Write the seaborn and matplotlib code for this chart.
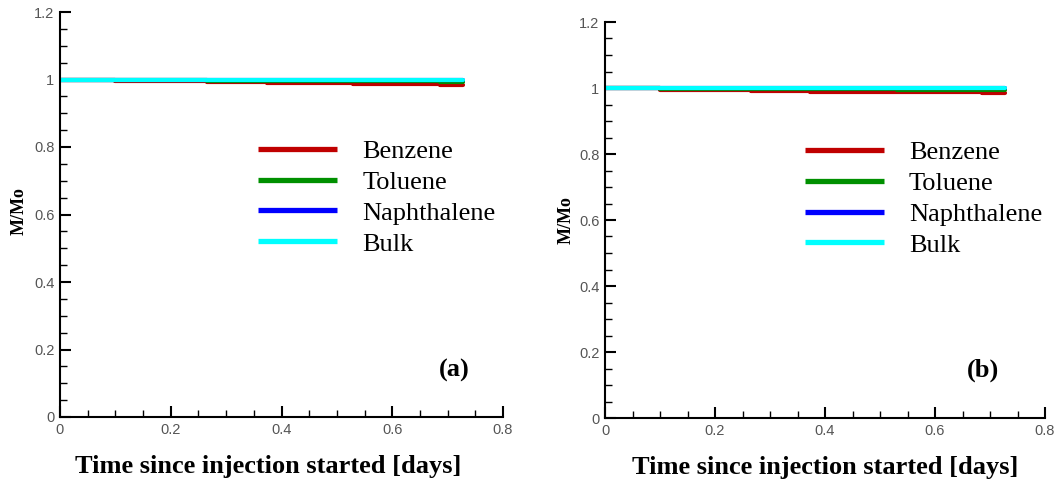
import numpy as np
import pandas as pd
import seaborn as sns
import matplotlib
matplotlib.use("Agg")
import matplotlib.pyplot as plt
from matplotlib.ticker import MultipleLocator

# ---- data ----
times = [0.0, 0.10, 0.265, 0.373, 0.53, 0.686, 0.728]
benzene = [1.000, 0.995, 0.992, 0.989, 0.987, 0.984, 0.984]
toluene = [1.000, 0.998, 0.997, 0.996, 0.995, 0.994, 0.994]
naphthalene = [1.000, 1.000, 1.000, 0.999, 0.999, 0.999, 0.999]
bulk = [1.000, 1.000, 1.000, 1.000, 1.000, 1.000, 1.000]

series_names = ["Benzene", "Toluene", "Naphthalene", "Bulk"]
series_colors = ["#c00000", "#009000", "#0000ff", "#00ffff"]
x_ticks = [0, 0.2, 0.4, 0.6, 0.8]
x_ticklabels = ["0", "0.2", "0.4", "0.6", "0.8"]
y_ticks = [0, 0.2, 0.4, 0.6, 0.8, 1.0, 1.2]
y_ticklabels = ["0", "0.2", "0.4", "0.6", "0.8", "1", "1.2"]
panel_labels = ["(a)", "(b)"]
xlabel = "Time since injection started [days]"
ylabel = "M/Mo"

frames = []
for name, vals in zip(series_names, [benzene, toluene, naphthalene, bulk]):
    frames.append(pd.DataFrame({"time": times, "M": vals, "species": name}))
df = pd.concat(frames, ignore_index=True)

sns.set_theme(style="ticks")
plt.rcParams["font.family"] = ["Liberation Serif", "DejaVu Serif"]
plt.rcParams["text.color"] = "black"
plt.rcParams["axes.labelcolor"] = "black"

fig = plt.figure(figsize=(10.55, 4.8), dpi=100)
axes_pos = [
    [60 / 1055, 1 - 417 / 480, 443 / 1055, 405 / 480],
    [605 / 1055, 1 - 418 / 480, 440 / 1055, 396 / 480],
]
legend_anchor = [(0.423, 0.542), (0.43, 0.554)]
panel_pos = [(0.89, 0.115), (0.86, 0.12)]
xlabel_pos = [(0.47, -0.121), (0.5, -0.124)]
ylabel_pos = [(-0.0925, 0.509), (-0.0886, 0.5)]

for i, pos in enumerate(axes_pos):
    ax = fig.add_axes(pos)
    sns.lineplot(data=df, x="time", y="M", hue="species", hue_order=series_names,
                 palette=series_colors, drawstyle="steps-post", linewidth=3.0,
                 ax=ax, legend=False, estimator=None, sort=False)
    ax.set_xlim(0, 0.8)
    ax.set_ylim(0, 1.2)
    ax.set_xticks(x_ticks)
    ax.set_xticklabels(x_ticklabels, family=["Liberation Sans"])
    ax.set_yticks(y_ticks)
    ax.set_yticklabels(y_ticklabels, family=["Liberation Sans"])
    ax.xaxis.set_minor_locator(MultipleLocator(0.05))
    ax.yaxis.set_minor_locator(MultipleLocator(0.05))
    ax.tick_params(which="major", direction="in", length=8, width=1.5,
                   labelsize=10.5, labelcolor="#555555", pad=4, color="black")
    ax.tick_params(which="minor", direction="in", length=5, width=1.0, color="black")
    for s in ["top", "right"]:
        ax.spines[s].set_visible(False)
    for s in ["left", "bottom"]:
        ax.spines[s].set_linewidth(1.5)
        ax.spines[s].set_color("black")
    ax.set_xlabel(xlabel, fontsize=19, fontweight="bold", va="center")
    ax.xaxis.set_label_coords(*xlabel_pos[i])
    ax.set_ylabel(ylabel, fontsize=13, fontweight="bold", va="center", ha="center")
    ax.yaxis.set_label_coords(*ylabel_pos[i])
    handles = [plt.Line2D([], [], color=c, linewidth=3.8, solid_capstyle="butt")
               for c in series_colors]
    leg = ax.legend(handles, series_names, loc="center left",
                    bbox_to_anchor=legend_anchor[i],
                    frameon=False, fontsize=19, handlelength=3.0, handletextpad=0.95,
                    labelspacing=0.28, borderaxespad=0)
    for t in leg.get_texts():
        t.set_color("black")
    ax.text(panel_pos[i][0], panel_pos[i][1], panel_labels[i], transform=ax.transAxes,
            fontsize=19, fontweight="bold", ha="center", va="center")

fig.savefig("out.png", dpi=100)
